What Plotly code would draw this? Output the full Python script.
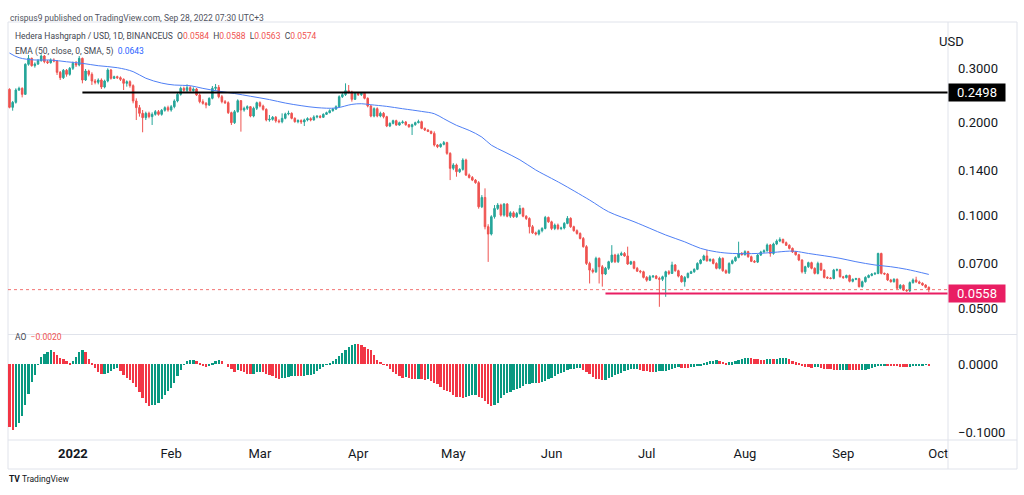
import math
import pandas as pd
import plotly.graph_objects as go

# Hedera Hashgraph / USD, daily candles (BINANCEUS), last bar 2022-09-28
opens = [
    0.2559, 0.2237, 0.2322, 0.2546, 0.2578, 0.2465, 0.3084, 0.3225, 0.3053, 0.3091,
    0.3169, 0.3281, 0.3146, 0.3122, 0.3185, 0.3161, 0.2905, 0.2791, 0.2949, 0.2862,
    0.2993, 0.3107, 0.3068, 0.3225, 0.2743, 0.2934, 0.2862, 0.2723, 0.2696, 0.2743,
    0.2603, 0.2723, 0.2956, 0.2777, 0.2812, 0.2791, 0.2757, 0.2676, 0.2709, 0.2630,
    0.2346, 0.2232, 0.2139, 0.2071, 0.2139, 0.2087, 0.2123, 0.2166, 0.2123, 0.2188,
    0.2232, 0.2193, 0.2248, 0.2346, 0.2465, 0.2578, 0.2540, 0.2591, 0.2533, 0.2565,
    0.2453, 0.2334, 0.2305, 0.2276, 0.2393, 0.2578, 0.2597, 0.2422, 0.2334, 0.2316,
    0.2150, 0.1995, 0.2166, 0.2351, 0.2193, 0.2221, 0.2248, 0.2097, 0.2221, 0.2316,
    0.2259, 0.2204, 0.2036, 0.2046, 0.2077, 0.2021, 0.2010, 0.2061, 0.2129, 0.2139,
    0.2061, 0.2010, 0.2026, 0.2006, 0.2036, 0.2056, 0.2036, 0.2082, 0.2092, 0.2077,
    0.2123, 0.2150, 0.2182, 0.2209, 0.2248, 0.2422, 0.2459, 0.2533, 0.2508, 0.2375,
    0.2483, 0.2459, 0.2483, 0.2393, 0.2259, 0.2097, 0.2215, 0.2097, 0.2139, 0.2086,
    0.1946, 0.1985, 0.2025, 0.1960, 0.1995, 0.2005, 0.1965, 0.1936, 0.1965, 0.1995,
    0.2010, 0.1912, 0.1889, 0.1870, 0.1842, 0.1689, 0.1668, 0.1697, 0.1719, 0.1587,
    0.1419, 0.1455, 0.1384, 0.1408, 0.1510, 0.1350, 0.1326, 0.1300, 0.1275, 0.1065,
    0.1142, 0.0918, 0.0869, 0.0989, 0.1052, 0.1079, 0.1001, 0.1087, 0.0993, 0.1018,
    0.0989, 0.1013, 0.1052, 0.0993, 0.0976, 0.0918, 0.0877, 0.0869, 0.0891, 0.0906,
    0.0984, 0.0952, 0.0906, 0.0929, 0.0906, 0.0909, 0.0941, 0.0977, 0.0918, 0.0891,
    0.0873, 0.0841, 0.0791, 0.0698, 0.0664, 0.0656, 0.0725, 0.0681, 0.0645, 0.0673,
    0.0707, 0.0743, 0.0707, 0.0743, 0.0752, 0.0738, 0.0695, 0.0707, 0.0673, 0.0659,
    0.0656, 0.0629, 0.0616, 0.0632, 0.0635, 0.0624, 0.0620, 0.0632, 0.0656, 0.0648,
    0.0690, 0.0661, 0.0635, 0.0609, 0.0629, 0.0648, 0.0656, 0.0668, 0.0698, 0.0716,
    0.0738, 0.0712, 0.0719, 0.0698, 0.0673, 0.0725, 0.0661, 0.0651, 0.0698, 0.0712,
    0.0730, 0.0752, 0.0745, 0.0762, 0.0734, 0.0709, 0.0705, 0.0743, 0.0760, 0.0767,
    0.0801, 0.0752, 0.0807, 0.0825, 0.0835, 0.0815, 0.0799, 0.0781, 0.0760, 0.0745,
    0.0716, 0.0656, 0.0681, 0.0702, 0.0673, 0.0648, 0.0698, 0.0664, 0.0629, 0.0626,
    0.0624, 0.0664, 0.0666, 0.0632, 0.0628, 0.0638, 0.0611, 0.0620, 0.0623, 0.0587,
    0.0609, 0.0629, 0.0638, 0.0645, 0.0648, 0.0752, 0.0648, 0.0645, 0.0617, 0.0609,
    0.0620, 0.0580, 0.0593, 0.0572, 0.0569, 0.0605, 0.0617, 0.0608, 0.0602, 0.0594,
    0.0584,
]
highs = [
    0.2578, 0.2346, 0.2578, 0.2610, 0.2597, 0.3107, 0.3306, 0.3241, 0.3130, 0.3209,
    0.3322, 0.3306, 0.3185, 0.3225, 0.3225, 0.3185, 0.2934, 0.2978, 0.2978, 0.3023,
    0.3146, 0.3161, 0.3281, 0.3241, 0.2978, 0.2963, 0.2905, 0.2764, 0.2777, 0.2777,
    0.2750, 0.2993, 0.2978, 0.2833, 0.2833, 0.2819, 0.2777, 0.2736, 0.2736, 0.2656,
    0.2393, 0.2277, 0.2193, 0.2166, 0.2166, 0.2155, 0.2193, 0.2193, 0.2210, 0.2254,
    0.2265, 0.2277, 0.2375, 0.2496, 0.2610, 0.2610, 0.2656, 0.2623, 0.2597, 0.2585,
    0.2483, 0.2375, 0.2328, 0.2410, 0.2623, 0.2663, 0.2643, 0.2453, 0.2363, 0.2339,
    0.2166, 0.2193, 0.2375, 0.2363, 0.2248, 0.2271, 0.2259, 0.2248, 0.2334, 0.2339,
    0.2282, 0.2221, 0.2113, 0.2097, 0.2097, 0.2046, 0.2139, 0.2150, 0.2182, 0.2155,
    0.2077, 0.2046, 0.2046, 0.2056, 0.2077, 0.2077, 0.2108, 0.2113, 0.2113, 0.2139,
    0.2166, 0.2204, 0.2226, 0.2271, 0.2447, 0.2496, 0.2676, 0.2643, 0.2533, 0.2508,
    0.2508, 0.2508, 0.2496, 0.2410, 0.2276, 0.2237, 0.2237, 0.2166, 0.2160, 0.2100,
    0.2000, 0.2040, 0.2040, 0.2010, 0.2030, 0.2020, 0.1975, 0.1980, 0.2010, 0.2040,
    0.2025, 0.1925, 0.1900, 0.1880, 0.1870, 0.1700, 0.1710, 0.1740, 0.1730, 0.1600,
    0.1475, 0.1470, 0.1420, 0.1530, 0.1525, 0.1365, 0.1340, 0.1310, 0.1290, 0.1162,
    0.1222, 0.0935, 0.1000, 0.1079, 0.1095, 0.1090, 0.1095, 0.1095, 0.1030, 0.1030,
    0.1025, 0.1079, 0.1060, 0.1000, 0.0985, 0.0930, 0.0885, 0.0900, 0.0915, 0.0995,
    0.0990, 0.0960, 0.0940, 0.0940, 0.0918, 0.0950, 0.0994, 0.0985, 0.0925, 0.0900,
    0.0880, 0.0850, 0.0800, 0.0707, 0.0673, 0.0734, 0.0730, 0.0690, 0.0680, 0.0712,
    0.0800, 0.0750, 0.0752, 0.0762, 0.0760, 0.0791, 0.0712, 0.0712, 0.0680, 0.0665,
    0.0661, 0.0635, 0.0640, 0.0640, 0.0640, 0.0632, 0.0637, 0.0661, 0.0664, 0.0707,
    0.0695, 0.0666, 0.0640, 0.0635, 0.0652, 0.0661, 0.0673, 0.0704, 0.0722, 0.0745,
    0.0771, 0.0725, 0.0725, 0.0704, 0.0734, 0.0730, 0.0668, 0.0704, 0.0719, 0.0736,
    0.0821, 0.0760, 0.0770, 0.0767, 0.0740, 0.0716, 0.0750, 0.0767, 0.0775, 0.0810,
    0.0807, 0.0815, 0.0835, 0.0848, 0.0840, 0.0822, 0.0805, 0.0786, 0.0765, 0.0750,
    0.0720, 0.0686, 0.0707, 0.0707, 0.0678, 0.0707, 0.0702, 0.0668, 0.0634, 0.0630,
    0.0670, 0.0672, 0.0670, 0.0636, 0.0642, 0.0642, 0.0624, 0.0627, 0.0627, 0.0614,
    0.0634, 0.0643, 0.0650, 0.0654, 0.0756, 0.0756, 0.0652, 0.0650, 0.0622, 0.0625,
    0.0624, 0.0598, 0.0597, 0.0576, 0.0610, 0.0624, 0.0632, 0.0614, 0.0606, 0.0598,
    0.0588,
]
lows = [
    0.2221, 0.2182, 0.2300, 0.2527, 0.2410, 0.2453, 0.3053, 0.3031, 0.3008, 0.3068,
    0.3146, 0.3107, 0.3091, 0.3099, 0.3130, 0.2848, 0.2743, 0.2764, 0.2812, 0.2833,
    0.2956, 0.3023, 0.3038, 0.2676, 0.2723, 0.2819, 0.2643, 0.2656, 0.2656, 0.2565,
    0.2578, 0.2696, 0.2750, 0.2764, 0.2764, 0.2723, 0.2546, 0.2610, 0.2591, 0.2305,
    0.2035, 0.2087, 0.1857, 0.2035, 0.2061, 0.1961, 0.2102, 0.2102, 0.2102, 0.2166,
    0.2166, 0.2166, 0.2221, 0.2322, 0.2441, 0.2514, 0.2502, 0.2515, 0.2515, 0.2435,
    0.2305, 0.2282, 0.2221, 0.2259, 0.2375, 0.2546, 0.2393, 0.2305, 0.2293, 0.2129,
    0.1961, 0.1976, 0.2150, 0.1866, 0.2166, 0.2193, 0.2077, 0.2077, 0.2193, 0.2237,
    0.2182, 0.2015, 0.2010, 0.2026, 0.1995, 0.1986, 0.1986, 0.2046, 0.2108, 0.2046,
    0.1995, 0.1986, 0.1976, 0.1946, 0.2015, 0.2015, 0.2026, 0.2061, 0.2061, 0.2066,
    0.2113, 0.2139, 0.2166, 0.2193, 0.2237, 0.2398, 0.2435, 0.2483, 0.2334, 0.2363,
    0.2435, 0.2435, 0.2375, 0.2237, 0.2077, 0.2077, 0.2077, 0.2077, 0.2060, 0.1930,
    0.1930, 0.1970, 0.1950, 0.1950, 0.1980, 0.1950, 0.1920, 0.1820, 0.1950, 0.1985,
    0.1900, 0.1875, 0.1860, 0.1830, 0.1670, 0.1650, 0.1655, 0.1685, 0.1570, 0.1300,
    0.1400, 0.1333, 0.1370, 0.1395, 0.1340, 0.1315, 0.1290, 0.1265, 0.1050, 0.1055,
    0.0900, 0.0706, 0.0860, 0.0975, 0.1040, 0.0990, 0.0990, 0.0985, 0.0980, 0.0980,
    0.0980, 0.1005, 0.0985, 0.0965, 0.0873, 0.0870, 0.0860, 0.0860, 0.0880, 0.0900,
    0.0945, 0.0895, 0.0895, 0.0895, 0.0895, 0.0900, 0.0935, 0.0910, 0.0885, 0.0865,
    0.0835, 0.0785, 0.0690, 0.0601, 0.0648, 0.0650, 0.0601, 0.0587, 0.0640, 0.0665,
    0.0700, 0.0700, 0.0700, 0.0738, 0.0734, 0.0690, 0.0690, 0.0668, 0.0655, 0.0648,
    0.0624, 0.0609, 0.0612, 0.0626, 0.0620, 0.0505, 0.0612, 0.0544, 0.0640, 0.0645,
    0.0656, 0.0629, 0.0605, 0.0587, 0.0624, 0.0645, 0.0651, 0.0664, 0.0693, 0.0712,
    0.0707, 0.0707, 0.0693, 0.0668, 0.0668, 0.0656, 0.0645, 0.0645, 0.0693, 0.0707,
    0.0725, 0.0740, 0.0740, 0.0728, 0.0705, 0.0700, 0.0700, 0.0738, 0.0756, 0.0762,
    0.0734, 0.0745, 0.0800, 0.0818, 0.0810, 0.0795, 0.0775, 0.0755, 0.0740, 0.0710,
    0.0648, 0.0645, 0.0675, 0.0668, 0.0643, 0.0643, 0.0660, 0.0624, 0.0622, 0.0620,
    0.0620, 0.0658, 0.0628, 0.0622, 0.0624, 0.0606, 0.0606, 0.0616, 0.0583, 0.0583,
    0.0605, 0.0625, 0.0634, 0.0640, 0.0644, 0.0643, 0.0640, 0.0612, 0.0605, 0.0605,
    0.0576, 0.0575, 0.0568, 0.0565, 0.0564, 0.0600, 0.0604, 0.0598, 0.0590, 0.0580,
    0.0563,
]
closes = [
    0.2237, 0.2322, 0.2546, 0.2578, 0.2465, 0.3084, 0.3225, 0.3053, 0.3091, 0.3169,
    0.3281, 0.3146, 0.3122, 0.3185, 0.3161, 0.2905, 0.2791, 0.2949, 0.2862, 0.2993,
    0.3107, 0.3068, 0.3225, 0.2743, 0.2934, 0.2862, 0.2723, 0.2696, 0.2743, 0.2603,
    0.2723, 0.2956, 0.2777, 0.2812, 0.2791, 0.2757, 0.2676, 0.2709, 0.2630, 0.2346,
    0.2232, 0.2139, 0.2071, 0.2139, 0.2087, 0.2123, 0.2166, 0.2123, 0.2188, 0.2232,
    0.2193, 0.2248, 0.2346, 0.2465, 0.2578, 0.2540, 0.2591, 0.2533, 0.2565, 0.2453,
    0.2334, 0.2305, 0.2276, 0.2393, 0.2578, 0.2597, 0.2422, 0.2334, 0.2316, 0.2150,
    0.1995, 0.2166, 0.2351, 0.2193, 0.2221, 0.2248, 0.2097, 0.2221, 0.2316, 0.2259,
    0.2204, 0.2036, 0.2046, 0.2077, 0.2021, 0.2010, 0.2061, 0.2129, 0.2139, 0.2061,
    0.2010, 0.2026, 0.2006, 0.2036, 0.2056, 0.2036, 0.2082, 0.2092, 0.2077, 0.2123,
    0.2150, 0.2182, 0.2209, 0.2248, 0.2422, 0.2459, 0.2533, 0.2508, 0.2375, 0.2483,
    0.2459, 0.2483, 0.2393, 0.2259, 0.2097, 0.2215, 0.2097, 0.2139, 0.2086, 0.1946,
    0.1985, 0.2025, 0.1960, 0.1995, 0.2005, 0.1965, 0.1936, 0.1965, 0.1995, 0.2010,
    0.1912, 0.1889, 0.1870, 0.1842, 0.1689, 0.1668, 0.1697, 0.1719, 0.1587, 0.1419,
    0.1455, 0.1384, 0.1408, 0.1510, 0.1350, 0.1326, 0.1300, 0.1275, 0.1065, 0.1142,
    0.0918, 0.0869, 0.0989, 0.1052, 0.1079, 0.1001, 0.1087, 0.0993, 0.1018, 0.0989,
    0.1013, 0.1052, 0.0993, 0.0976, 0.0918, 0.0877, 0.0869, 0.0891, 0.0906, 0.0984,
    0.0952, 0.0906, 0.0929, 0.0906, 0.0909, 0.0941, 0.0977, 0.0918, 0.0891, 0.0873,
    0.0841, 0.0791, 0.0698, 0.0664, 0.0656, 0.0725, 0.0681, 0.0645, 0.0673, 0.0707,
    0.0743, 0.0707, 0.0743, 0.0752, 0.0738, 0.0695, 0.0707, 0.0673, 0.0659, 0.0656,
    0.0629, 0.0616, 0.0632, 0.0635, 0.0624, 0.0620, 0.0632, 0.0656, 0.0648, 0.0690,
    0.0661, 0.0635, 0.0609, 0.0629, 0.0648, 0.0656, 0.0668, 0.0698, 0.0716, 0.0738,
    0.0712, 0.0719, 0.0698, 0.0673, 0.0725, 0.0661, 0.0651, 0.0698, 0.0712, 0.0730,
    0.0752, 0.0745, 0.0762, 0.0734, 0.0709, 0.0705, 0.0743, 0.0760, 0.0767, 0.0801,
    0.0752, 0.0807, 0.0825, 0.0835, 0.0815, 0.0799, 0.0781, 0.0760, 0.0745, 0.0716,
    0.0656, 0.0681, 0.0702, 0.0673, 0.0648, 0.0698, 0.0664, 0.0629, 0.0626, 0.0624,
    0.0664, 0.0666, 0.0632, 0.0628, 0.0638, 0.0611, 0.0620, 0.0623, 0.0587, 0.0609,
    0.0629, 0.0638, 0.0645, 0.0648, 0.0752, 0.0648, 0.0645, 0.0617, 0.0609, 0.0620,
    0.0580, 0.0593, 0.0572, 0.0569, 0.0605, 0.0617, 0.0608, 0.0602, 0.0594, 0.0584,
    0.0574,
]

# Awesome Oscillator, one value per candle
ao_values = [
    -0.093, -0.097, -0.093, -0.087, -0.076, -0.061, -0.044, -0.027, -0.016, -0.0005,
    0.011, 0.015, 0.017, 0.020, 0.018, 0.013, 0.009, 0.007, 0.004, 0.0015,
    0.004, 0.011, 0.017, 0.021, 0.018, 0.0075, 0.0015, -0.006, -0.012, -0.015,
    -0.0145, -0.013, -0.010, -0.008, -0.006, -0.010, -0.016, -0.020, -0.023, -0.028,
    -0.034, -0.041, -0.050, -0.058, -0.062, -0.061, -0.060, -0.057, -0.051, -0.045,
    -0.040, -0.035, -0.028, -0.018, -0.009, -0.001, 0.004, 0.006, 0.0065, 0.004,
    0.001, -0.002, -0.005, -0.003, 0.0015, 0.004, 0.006, 0.004, 0.000, -0.004,
    -0.008, -0.011, -0.009, -0.010, -0.012, -0.014, -0.015, -0.014, -0.012, -0.011,
    -0.012, -0.014, -0.016, -0.018, -0.020, -0.022, -0.021, -0.020, -0.0185, -0.018,
    -0.017, -0.0178, -0.018, -0.017, -0.0165, -0.0158, -0.014, -0.010, -0.007, -0.004,
    -0.001, 0.002, 0.005, 0.008, 0.012, 0.016, 0.021, 0.025, 0.028, 0.0295,
    0.029, 0.028, 0.025, 0.0225, 0.020, 0.013, 0.006, 0.003, -0.001, -0.0035,
    -0.007, -0.011, -0.015, -0.017, -0.020, -0.019, -0.021, -0.022, -0.0222, -0.0215,
    -0.022, -0.023, -0.0225, -0.0245, -0.028, -0.030, -0.034, -0.038, -0.039, -0.041,
    -0.045, -0.048, -0.049, -0.050, -0.048, -0.047, -0.046, -0.0455, -0.048, -0.050,
    -0.054, -0.059, -0.062, -0.061, -0.057, -0.050, -0.046, -0.043, -0.041, -0.038,
    -0.037, -0.035, -0.033, -0.030, -0.029, -0.028, -0.0279, -0.0284, -0.026, -0.0245,
    -0.0225, -0.020, -0.017, -0.015, -0.013, -0.011, -0.009, -0.0074, -0.0069, -0.0064,
    -0.0061, -0.0083, -0.011, -0.015, -0.019, -0.0215, -0.0225, -0.0235, -0.023, -0.0206,
    -0.0186, -0.0167, -0.0147, -0.0127, -0.0108, -0.0088, -0.0078, -0.0074, -0.0073, -0.0083,
    -0.0098, -0.0108, -0.0118, -0.0123, -0.0117, -0.0108, -0.0103, -0.0098, -0.0083, -0.0069,
    -0.0059, -0.0049, -0.0054, -0.0059, -0.0061, -0.0049, -0.0039, -0.0029, -0.0015, 0.0005,
    0.0025, 0.0039, 0.0049, 0.0054, 0.0044, 0.0034, 0.0020, 0.0025, 0.0029, 0.0039,
    0.0059, 0.0078, 0.0088, 0.0093, 0.0083, 0.0074, 0.0069, 0.0064, 0.0061, 0.0069,
    0.0071, 0.0069, 0.0078, 0.0083, 0.0088, 0.0091, 0.0078, 0.0049, 0.0029, 0.0010,
    -0.0020, -0.0039, -0.0049, -0.0054, -0.0051, -0.0049, -0.0064, -0.0069, -0.0074, -0.0078,
    -0.0083, -0.0088, -0.0086, -0.0083, -0.0081, -0.0086, -0.0088, -0.0091, -0.0093, -0.0088,
    -0.0083, -0.0074, -0.0059, -0.0039, -0.0025, -0.0020, -0.0015, -0.0020, -0.0025, -0.0029,
    -0.0034, -0.0039, -0.0044, -0.0047, -0.0044, -0.0034, -0.0025, -0.0020, -0.0015, -0.0012,
    -0.0020,
]

# EMA(50) at a few dates
ema_dates = [
    "2021-12-12", "2021-12-15", "2021-12-20", "2021-12-25", "2021-12-30", "2022-01-04",
    "2022-01-09", "2022-01-15", "2022-01-20", "2022-01-24", "2022-01-29", "2022-02-02",
    "2022-02-07", "2022-02-11", "2022-02-16", "2022-02-21", "2022-02-26", "2022-03-04",
    "2022-03-09", "2022-03-14", "2022-03-19", "2022-03-25", "2022-03-30", "2022-04-02",
    "2022-04-05", "2022-04-10", "2022-04-15", "2022-04-21", "2022-04-25", "2022-04-28",
    "2022-05-02", "2022-05-06", "2022-05-10", "2022-05-13", "2022-05-17", "2022-05-22",
    "2022-05-27", "2022-06-01", "2022-06-04", "2022-06-13", "2022-06-19", "2022-06-27",
    "2022-07-02", "2022-07-07", "2022-07-13", "2022-07-18", "2022-07-23", "2022-07-28",
    "2022-08-05", "2022-08-10", "2022-08-15", "2022-08-17", "2022-08-21", "2022-08-26",
    "2022-08-31", "2022-09-05", "2022-09-11", "2022-09-16", "2022-09-21", "2022-09-28",
]
ema_values = [
    0.3355, 0.3240, 0.3185, 0.3185, 0.3143, 0.3106,
    0.3052, 0.3007, 0.2920, 0.2780, 0.2681, 0.2642,
    0.2629, 0.2577, 0.2524, 0.2480, 0.2430, 0.2370,
    0.2310, 0.2265, 0.2232, 0.2226, 0.2287, 0.2298,
    0.2281, 0.2253, 0.2214, 0.2170, 0.2133, 0.2055,
    0.1956, 0.1884, 0.1792, 0.1687, 0.1607, 0.1512,
    0.1402, 0.1316, 0.1267, 0.1120, 0.1026, 0.0953,
    0.0907, 0.0863, 0.0820, 0.0781, 0.0761, 0.0752,
    0.0752, 0.0758, 0.0765, 0.0764, 0.0752, 0.0739,
    0.0725, 0.0707, 0.0690, 0.0681, 0.0668, 0.0643,
]

# drawn levels
resistance_level = 0.2498
resistance_from = "2022-01-04"
support_level = 0.0558
support_from = "2022-06-18"

price_ticks = [0.05, 0.07, 0.10, 0.14, 0.20, 0.30]
ao_ticks = [0.0, -0.1]
ao_tick_text = ["0.0000", "\u22120.1000"]
month_ticks = ["2022-01-01", "2022-02-01", "2022-03-01", "2022-04-01", "2022-05-01",
               "2022-06-01", "2022-07-01", "2022-08-01", "2022-09-01", "2022-10-01"]
month_labels = ["<b>2022</b>", "Feb", "Mar", "Apr", "May", "Jun", "Jul", "Aug", "Sep", "Oct"]

W, H = 1024, 495
UP, DOWN = "#26a69a", "#ef5350"
AO_UP, AO_DOWN = "#089981", "#f23645"
TEXT = "#131722"
FRAME = "#e0e3eb"
EMA_COLOR = "#4f7ff5"
PINK = "#e91e63"
FONT = "Roboto"


def px(x):
    return x / W


def py(y):
    return 1 - y / H


dates = pd.date_range(end="2022-09-28", periods=len(closes), freq="D")
day = pd.Timedelta(days=1)
x_start = dates[0] - 0.47 * day
x_end = dates[0] + 296.05 * day

ao_colors = [AO_DOWN]
for prev, cur in zip(ao_values[:-1], ao_values[1:]):
    ao_colors.append(AO_UP if cur >= prev else AO_DOWN)

fig = go.Figure()

fig.add_trace(go.Candlestick(
    x=dates, open=opens, high=highs, low=lows, close=closes,
    increasing=dict(line=dict(color=UP, width=1), fillcolor=UP),
    decreasing=dict(line=dict(color=DOWN, width=1), fillcolor=DOWN),
    whiskerwidth=0, xaxis="x", yaxis="y", hoverinfo="skip",
))

# last price dotted line
fig.add_trace(go.Scatter(
    x=[x_start, x_end], y=[closes[-1], closes[-1]], mode="lines",
    line=dict(color="rgba(239,83,80,0.8)", width=1, dash="dot"),
    xaxis="x", yaxis="y", hoverinfo="skip",
))

fig.add_trace(go.Scatter(
    x=ema_dates, y=ema_values, mode="lines", line_shape="spline",
    line=dict(color=EMA_COLOR, width=1), xaxis="x", yaxis="y", hoverinfo="skip",
))

fig.add_trace(go.Scatter(
    x=[resistance_from, x_end], y=[resistance_level, resistance_level], mode="lines",
    line=dict(color="#000000", width=2), xaxis="x", yaxis="y", hoverinfo="skip",
))
fig.add_trace(go.Scatter(
    x=[support_from, x_end], y=[support_level, support_level], mode="lines",
    line=dict(color=PINK, width=2), xaxis="x", yaxis="y", hoverinfo="skip",
))

fig.add_trace(go.Bar(
    x=dates, y=ao_values, marker=dict(color=ao_colors, line=dict(width=0)),
    width=0.72 * 86400000, xaxis="x2", yaxis="y2", hoverinfo="skip",
))

# pixel layout of the TradingView panes
main_top, main_bottom = 22, 334
ao_top, ao_bottom = 335, 440
price_lo, price_hi = 0.041225, 0.42288
ao_lo, ao_hi = -0.1118, 0.0427

axis_font = dict(family=FONT, size=13, color=TEXT)
fig.update_layout(
    width=W, height=H, margin=dict(l=0, r=0, t=0, b=0),
    paper_bgcolor="white", plot_bgcolor="white", showlegend=False,
    xaxis=dict(domain=[px(8), px(948)], anchor="y", type="date",
               range=[x_start, x_end], rangeslider=dict(visible=False),
               showticklabels=False, showgrid=False, zeroline=False, showline=False),
    xaxis2=dict(domain=[px(8), px(948)], anchor="y2", type="date", matches="x",
                range=[x_start, x_end], tickmode="array", tickvals=month_ticks,
                ticktext=month_labels, tickfont=axis_font, ticks="",
                ticklabelstandoff=4, showgrid=False, zeroline=False, showline=False),
    yaxis=dict(domain=[py(main_bottom), py(main_top)], anchor="x", side="right",
               type="log", range=[math.log10(price_lo), math.log10(price_hi)],
               tickmode="array", tickvals=price_ticks,
               ticktext=[f"{v:.4f}" for v in price_ticks], tickfont=axis_font,
               ticks="", ticklabelstandoff=9, showgrid=False, zeroline=False,
               showline=False),
    yaxis2=dict(domain=[py(ao_bottom), py(ao_top)], anchor="x2", side="right",
                range=[ao_lo, ao_hi], tickmode="array", tickvals=ao_ticks,
                ticktext=ao_tick_text, tickfont=axis_font, ticks="",
                ticklabelstandoff=9, showgrid=False, zeroline=False, showline=False),
    bargap=0,
)

# frame and pane separators
frame = dict(color=FRAME, width=1)
fig.add_shape(type="rect", xref="paper", yref="paper", x0=px(8), x1=px(1017),
              y0=py(469), y1=py(main_top), line=frame, layer="below")
fig.add_shape(type="line", xref="paper", yref="paper", x0=px(948), x1=px(948),
              y0=py(469), y1=py(main_top), line=frame)
fig.add_shape(type="line", xref="paper", yref="paper", x0=px(8), x1=px(1017),
              y0=py(334.5), y1=py(334.5), line=frame)
fig.add_shape(type="line", xref="paper", yref="paper", x0=px(8), x1=px(1017),
              y0=py(440), y1=py(440), line=frame)

# price labels on the axis
for level, color in [(resistance_level, "#000000"), (support_level, PINK)]:
    fig.add_annotation(
        x=px(948), xref="paper", xanchor="left", y=math.log10(level), yref="y",
        text=f"{level:.4f}", showarrow=False, bgcolor=color, borderpad=2,
        width=52, height=13, font=dict(family=FONT, size=13, color="white"),
    )

head_font = dict(family=FONT, size=8.5, color="#50535e")
leg_font = dict(family=FONT, size=8.5, color="#434651")
red = f"color:{DOWN}"
fig.add_annotation(
    x=px(8), y=py(11), xref="paper", yref="paper", xanchor="left", showarrow=False,
    text="crispus9 published on TradingView.com, Sep 28, 2022 07:30 UTC+3", font=head_font,
)
fig.add_annotation(
    x=px(13), y=py(29), xref="paper", yref="paper", xanchor="left", showarrow=False,
    text=(f"Hedera Hashgraph / USD, 1D, BINANCEUS&nbsp;&nbsp;"
          f"O<span style='{red}'>{opens[-1]:.4f}</span>&nbsp;&nbsp;"
          f"H<span style='{red}'>{highs[-1]:.4f}</span>&nbsp;&nbsp;"
          f"L<span style='{red}'>{lows[-1]:.4f}</span>&nbsp;&nbsp;"
          f"C<span style='{red}'>{closes[-1]:.4f}</span>"),
    font=leg_font,
)
fig.add_annotation(
    x=px(13), y=py(44), xref="paper", yref="paper", xanchor="left", showarrow=False,
    text=f"EMA (50, close, 0, SMA, 5)&nbsp;&nbsp;<span style='color:#2962ff'>{ema_values[-1]:.4f}</span>",
    font=leg_font,
)
fig.add_annotation(
    x=px(13), y=py(344), xref="paper", yref="paper", xanchor="left", showarrow=False,
    text=f"AO&nbsp;&nbsp;<span style='{red}'>{ao_values[-1]:.4f}</span>".replace("-", "\u2212"),
    font=leg_font,
)
fig.add_annotation(
    x=px(966), y=py(32), xref="paper", yref="paper", showarrow=False,
    text="USD", font=axis_font,
)
fig.add_annotation(
    x=px(7), y=py(486), xref="paper", yref="paper", xanchor="left", showarrow=False,
    text="<b>TV</b>&nbsp;TradingView", font=dict(family=FONT, size=8.5, color=TEXT),
)

# the page's default body margin would shift the whole figure by 8px
fig.write_html("out.html", config={"displayModeBar": False},
               post_script="document.body.style.margin = '0px';")
